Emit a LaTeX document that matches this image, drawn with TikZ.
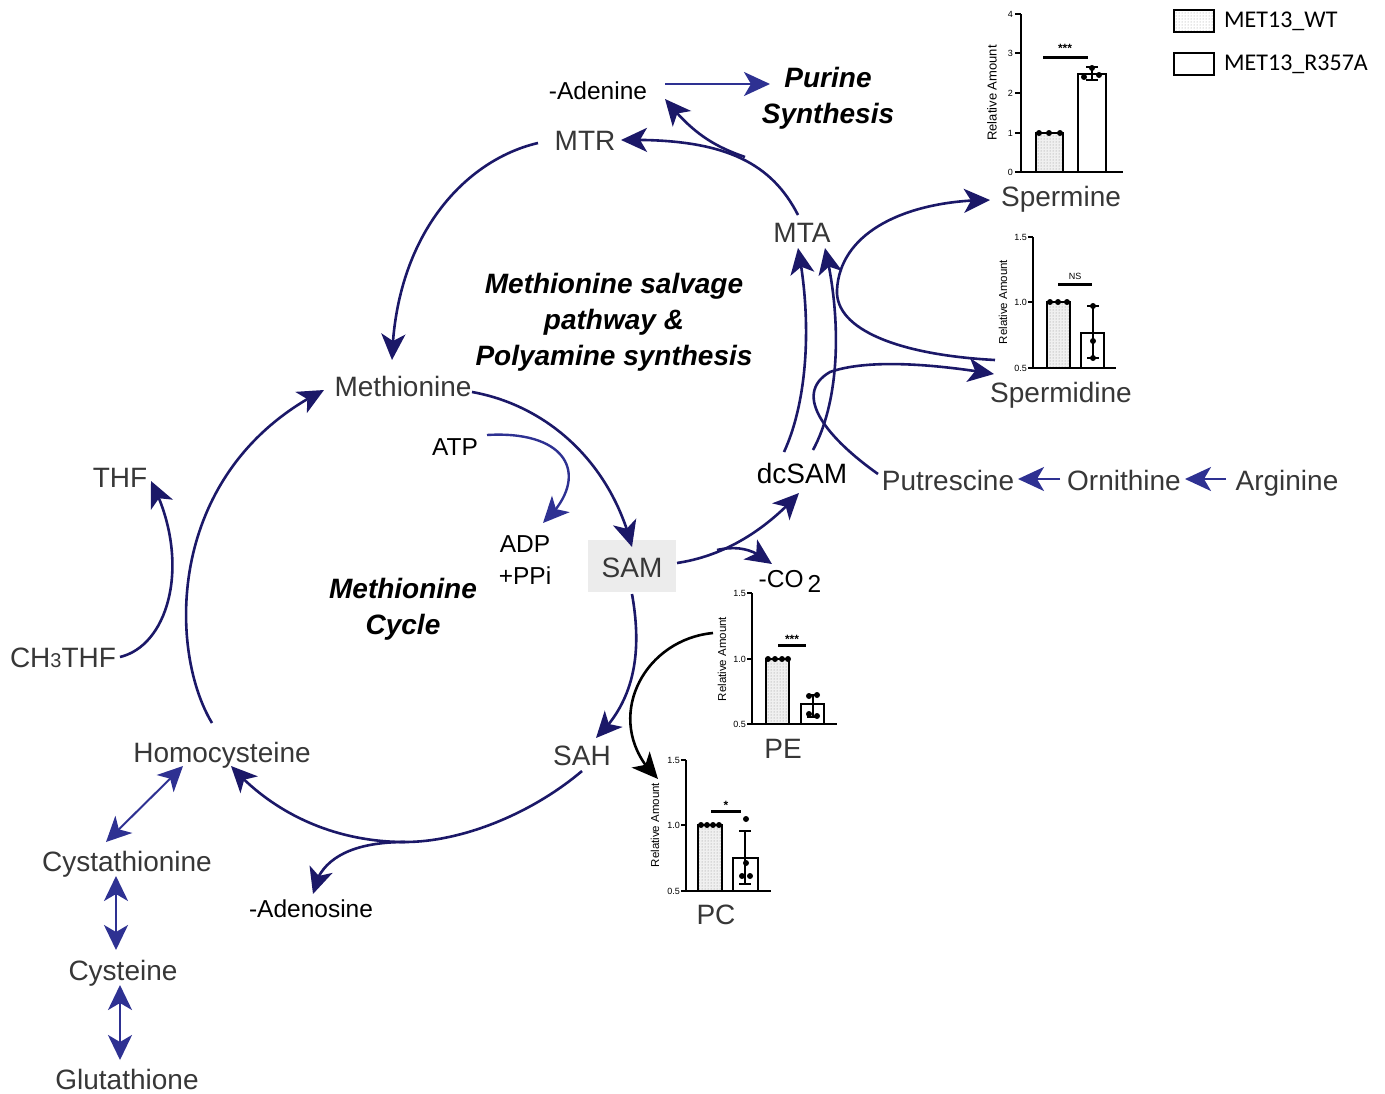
\documentclass[tikz,border=0pt]{standalone}
\usepackage{fontspec}
\setmainfont{Liberation Sans}
\newfontfamily\legendfont{Carlito}
\usetikzlibrary{arrows.meta,patterns,bending}
\definecolor{navy}{RGB}{27,24,104}
\definecolor{mblue}{RGB}{46,49,146}
\definecolor{txtgray}{RGB}{55,55,55}
\definecolor{sambox}{RGB}{236,236,236}
\tikzset{
  lbl/.style={font=\fontsize{28}{30}\selectfont, text=txtgray, inner sep=0pt, anchor=base},
  blbl/.style={font=\fontsize{28}{30}\selectfont, text=black, inner sep=0pt, anchor=base},
  slbl/.style={font=\fontsize{24.5}{27}\selectfont, text=black, inner sep=0pt, anchor=base},
  bi/.style={font=\fontsize{28}{36}\selectfont\bfseries\itshape, align=center, inner sep=0pt},
  tipa/.style={-{Stealth[length=26pt,width=24pt,inset=7pt]}},
  tipd/.style={{Stealth[length=25pt,width=24pt,inset=7pt]}-{Stealth[length=25pt,width=24pt,inset=7pt]}},
  narrow/.style={draw=navy, line width=2.6pt, tipa},
  barrow/.style={draw=mblue, line width=2.4pt, tipa},
  darrow/.style={draw=mblue, line width=2.3pt, tipd},
  karrow/.style={draw=black, line width=2.6pt, tipa},
  ax/.style={draw=black, line width=2.2pt},
  bar/.style={draw=black, line width=1.8pt},
  wtfill/.style={pattern=dots, pattern color=gray!90},
  tick/.style={font=\fontsize{9}{10}\selectfont, inner sep=0pt, anchor=east},
  ylab/.style={font=\fontsize{11.5}{12}\selectfont, rotate=90, inner sep=0pt},
  sig/.style={font=\fontsize{12}{12}\selectfont\bfseries, inner sep=0pt},
  pt/.style={fill=black, circle, inner sep=0pt, minimum size=6pt},
  leg/.style={font=\legendfont\fontsize{24}{26}\selectfont, anchor=west, inner sep=0pt}
}
\begin{document}
\begin{tikzpicture}[x=1pt,y=-1pt]
\useasboundingbox (0,0) rectangle (1385,1093);
\fill[white] (0,0) rectangle (1385,1093);

% SAM box
\fill[sambox] (588,540) rectangle (676,592);

% ---------- labels ----------
\node[slbl] (adenine) at (598,99) {-Adenine};
\node[bi] (purine) at (828,98) {Purine\\Synthesis};
\node[lbl] (MTR) at (585,150) {MTR};
\node[lbl] (MTA) at (802,242) {MTA};
\node[bi] (salv) at (614,322) {Methionine salvage\\pathway \&\\Polyamine synthesis};
\node[lbl] (met) at (403,396) {Methionine};
\node[slbl] (ATP) at (455,455) {ATP};
\node[lbl] (THF) at (120,487) {THF};
\node[blbl] (dcSAM) at (802,483) {dcSAM};
\node[lbl] (put) at (948,490) {Putrescine};
\node[lbl] (orn) at (1124,490) {Ornithine};
\node[lbl] (arg) at (1287,490) {Arginine};
\node[slbl] (ADP) at (525,552) {ADP};
\node[slbl] (PPi) at (525,584) {+PPi};
\node[lbl] (SAM) at (632,577) {SAM};
\node[slbl] (CO2) at (790,587) {-CO\,\raisebox{-5pt}{2}};
\node[bi] (cyc) at (403,609) {Methionine\\Cycle};
\node[lbl] (CH3) at (63,667) {CH{\fontsize{20}{20}\selectfont 3}THF};
\node[lbl] (hcy) at (222,762) {Homocysteine};
\node[lbl] (SAH) at (582,765) {SAH};
\node[lbl] (cth) at (127,871) {Cystathionine};
\node[slbl] (ados) at (311,917) {-Adenosine};
\node[lbl] (cys) at (123,980) {Cysteine};
\node[lbl] (glu) at (127,1089) {Glutathione};
\node[lbl] (spm) at (1061,206) {Spermine};
\node[lbl] (spd) at (1061,402) {Spermidine};
\node[lbl] (PE) at (783,758) {PE};
\node[lbl] (PC) at (716,924) {PC};

% ---------- connectors ----------
% MTR -> Methionine
\coordinate (a1) at (538,143); \coordinate (a2) at (392,360);
\draw[narrow] (a1) .. controls (465,160) and (395,235) .. (a2);
% Methionine -> SAM
\coordinate (b1) at (472,392); \coordinate (b2) at (632,547);
\draw[narrow] (b1) .. controls (545,405) and (610,460) .. (b2);
% ATP -> ADP
\coordinate (c1) at (487,435); \coordinate (c2) at (543,523);
\draw[barrow] (c1) .. controls (570,430) and (592,478) .. (c2);
% SAM -> SAH
\coordinate (d1) at (632,594); \coordinate (d2) at (596,738);
\draw[narrow] (d1) .. controls (642,650) and (636,700) .. (d2);
% SAH -> Homocysteine, with -Adenosine
\coordinate (e1) at (582,771); \coordinate (e2) at (405,842); \coordinate (e3) at (231,766);
\coordinate (e4) at (313,894);
\draw[narrow] (e1) .. controls (530,815) and (460,842) .. (e2) .. controls (330,842) and (270,810) .. (e3);
\draw[narrow] (e2) .. controls (350,842) and (318,860) .. (e4);
% Homocysteine -> Methionine
\coordinate (f1) at (212,723); \coordinate (f2) at (324,390);
\draw[narrow] (f1) .. controls (168,650) and (165,470) .. (f2);
% CH3THF -> THF
\coordinate (g1) at (120,657); \coordinate (g2) at (151,481);
\draw[narrow] (g1) .. controls (170,645) and (192,560) .. (g2);
% SAM -> dcSAM, -CO2
\coordinate (h1) at (677,563); \coordinate (h2) at (799,493);
\coordinate (h3) at (717,550); \coordinate (h4) at (772,564);
\draw[narrow] (h1) .. controls (730,555) and (770,525) .. (h2);
\draw[narrow] (h3) .. controls (740,545) and (755,550) .. (h4);
% dcSAM -> MTA (two)
\coordinate (i1) at (784,452); \coordinate (i2) at (798,248);
\coordinate (i3) at (813,450); \coordinate (i4) at (825,248);
\draw[narrow] (i1) .. controls (808,400) and (812,320) .. (i2);
\draw[narrow] (i3) .. controls (840,400) and (842,320) .. (i4);
% Putrescine -> Spermidine
\coordinate (j1) at (878,474); \coordinate (j2) at (830,372); \coordinate (j3) at (994,374);
\draw[narrow] (j1) .. controls (830,440) and (790,395) .. (j2) .. controls (870,358) and (940,365) .. (j3);
% Spermidine -> Spermine
\coordinate (k1) at (995,360); \coordinate (k2) at (837,290); \coordinate (k3) at (990,200);
\draw[narrow] (k1) .. controls (900,355) and (835,330) .. (k2) .. controls (840,230) and (910,200) .. (k3);
% MTA -> MTR, -Adenine
\coordinate (l1) at (798,215); \coordinate (l2) at (621,140);
\coordinate (l3) at (745,157); \coordinate (l4) at (665,99);
\draw[narrow] (l1) .. controls (770,160) and (720,138) .. (l2);
\draw[narrow] (l3) .. controls (710,145) and (690,130) .. (l4);
% Adenine -> Purine
\coordinate (m1) at (665,84); \coordinate (m2) at (770,84);
\draw[barrow] (m1) -- (m2);
% Arginine -> Ornithine -> Putrescine
\coordinate (n1) at (1060,479); \coordinate (n2) at (1018,479);
\coordinate (n3) at (1226,479); \coordinate (n4) at (1185,479);
\draw[barrow] (n1) -- (n2);
\draw[barrow] (n3) -- (n4);
% PE -> PC (black)
\coordinate (o1) at (713,633); \coordinate (o2) at (658,779);
\draw[karrow] (o1) .. controls (640,640) and (600,725) .. (o2);
% transsulfuration
\coordinate (p1) at (183,766); \coordinate (p2) at (106,842);
\coordinate (p3) at (116,876); \coordinate (p4) at (116,950);
\coordinate (p5) at (120,985); \coordinate (p6) at (120,1060);
\draw[darrow, line width=2pt] (p1) -- (p2);
\draw[darrow] (p3) -- (p4);
\draw[darrow] (p5) -- (p6);

% ---------- chart 1: Spermine ----------
\fill[gray!12] (1036,172) rectangle (1063,133);
\fill[wtfill] (1036,172) rectangle (1063,133);
\draw[bar] (1036,172) rectangle (1063,133);
\draw[bar] (1078,172) rectangle (1106,74);
\draw[ax] (1021,14) -- (1021,172) -- (1123,172);
\foreach \yy/\tt in {14/4,53/3,93/2,133/1,172/0}{
  \draw[ax] (1015,\yy) -- (1021,\yy);
  \node[tick] at (1013,\yy) {\tt};
}
\node[ylab, font=\fontsize{13}{13}\selectfont] at (992,93) {Relative Amount};
\foreach \xx in {1039,1049,1060} \node[pt] at (\xx,133) {};
\draw[bar] (1092,67) -- (1092,80) (1086,67) -- (1098,67) (1086,80) -- (1098,80);
\node[pt] at (1092,68) {}; \node[pt] at (1084,77) {}; \node[pt] at (1099,75) {};
\draw[line width=3pt] (1043,57) -- (1088,57);
\node[sig] at (1065,48) {***};

% ---------- chart 2: Spermidine ----------
\fill[gray!12] (1047,368) rectangle (1070,302);
\fill[wtfill] (1047,368) rectangle (1070,302);
\draw[bar] (1047,368) rectangle (1070,302);
\draw[bar] (1081,368) rectangle (1104,333);
\draw[ax] (1033,237) -- (1033,368) -- (1116,368);
\foreach \yy/\tt in {237/1.5,302/1.0,368/0.5}{
  \draw[ax] (1028,\yy) -- (1033,\yy);
  \node[tick] at (1027,\yy) {\tt};
}
\node[ylab] at (1003,302) {Relative Amount};
\foreach \xx in {1050,1058,1067} \node[pt] at (\xx,302) {};
\draw[bar] (1093,306) -- (1093,358) (1087,306) -- (1099,306) (1087,358) -- (1099,358);
\node[pt] at (1093,306) {}; \node[pt] at (1093,341) {}; \node[pt] at (1093,358) {};
\draw[line width=3pt] (1058,284) -- (1092,284);
\node[sig, font=\fontsize{9}{10}\selectfont] at (1075,276) {NS};

% ---------- chart 3: PE ----------
\fill[gray!12] (766,724) rectangle (789,659);
\fill[wtfill] (766,724) rectangle (789,659);
\draw[bar] (766,724) rectangle (789,659);
\draw[bar] (801,724) rectangle (824,704);
\draw[ax] (752,593) -- (752,724) -- (837,724);
\foreach \yy/\tt in {593/1.5,659/1.0,724/0.5}{
  \draw[ax] (747,\yy) -- (752,\yy);
  \node[tick] at (746,\yy) {\tt};
}
\node[ylab] at (722,659) {Relative Amount};
\foreach \xx in {768,775,782,788} \node[pt] at (\xx,659) {};
\draw[bar] (813,695) -- (813,717) (807,695) -- (819,695) (807,717) -- (819,717);
\node[pt] at (809,696) {}; \node[pt] at (817,695) {}; \node[pt] at (809,714) {}; \node[pt] at (817,716) {};
\draw[line width=3pt] (778,645) -- (806,645);
\node[sig] at (792,639) {***};

% ---------- chart 4: PC ----------
\fill[gray!12] (698,891) rectangle (722,825);
\fill[wtfill] (698,891) rectangle (722,825);
\draw[bar] (698,891) rectangle (722,825);
\draw[bar] (733,891) rectangle (758,858);
\draw[ax] (686,760) -- (686,891) -- (771,891);
\foreach \yy/\tt in {760/1.5,825/1.0,891/0.5}{
  \draw[ax] (681,\yy) -- (686,\yy);
  \node[tick] at (680,\yy) {\tt};
}
\node[ylab] at (655,825) {Relative Amount};
\foreach \xx in {701,707,713,719} \node[pt] at (\xx,825) {};
\draw[bar] (745,831) -- (745,884) (739,831) -- (751,831) (739,884) -- (751,884);
\node[pt] at (746,819) {}; \node[pt] at (746,863) {}; \node[pt] at (742,876) {}; \node[pt] at (750,876) {};
\draw[line width=3pt] (711,811) -- (741,811);
\node[sig] at (726,805) {*};

% ---------- legend ----------
\fill[pattern=dots, pattern color=gray!80] (1174,10) rectangle (1214,32);
\draw[line width=2pt] (1174,10) rectangle (1214,32);
\draw[line width=2pt] (1174,53) rectangle (1214,75);
\node[leg] (legwt) at (1224,21) {MET13\_WT};
\node[leg] (legr) at (1224,64) {MET13\_R357A};
\end{tikzpicture}
\end{document}
